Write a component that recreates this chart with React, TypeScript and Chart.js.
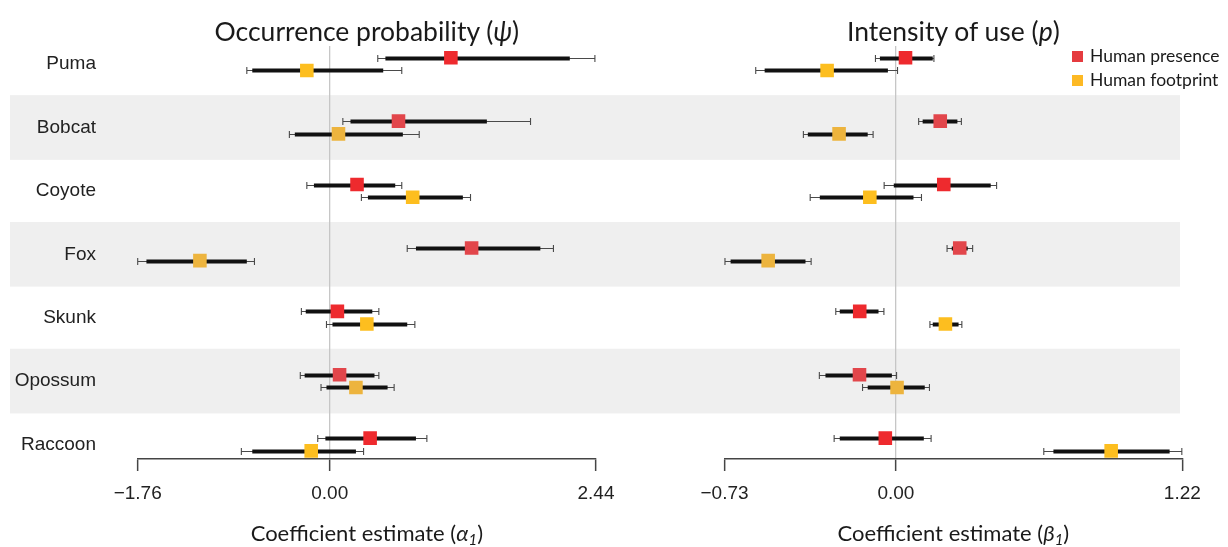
import React, { useEffect, useRef } from "react";
import { Chart, registerables } from "chart.js";

Chart.register(...registerables);

// ---------- data ----------
const SPECIES = ["Puma", "Bobcat", "Coyote", "Fox", "Skunk", "Opossum", "Raccoon"];

const OCC_TICKS = [-1.76, 0, 2.44];
const INT_TICKS = [-0.73, 0, 1.22];

// Occurrence probability (psi) — human presence
const occPresEst = [1.11, 0.63, 0.25, 1.3, 0.07, 0.09, 0.37];
const occPresLo95 = [0.44, 0.12, -0.21, 0.71, -0.26, -0.27, -0.11];
const occPresLo50 = [0.51, 0.19, -0.145, 0.79, -0.22, -0.23, -0.04];
const occPresHi50 = [2.2, 1.44, 0.6, 1.93, 0.39, 0.41, 0.79];
const occPresHi95 = [2.43, 1.84, 0.66, 2.05, 0.45, 0.45, 0.89];

// Occurrence probability (psi) — human footprint
const occFootEst = [-0.21, 0.08, 0.76, -1.19, 0.34, 0.24, -0.17];
const occFootLo95 = [-0.76, -0.37, 0.29, -1.76, -0.03, -0.08, -0.81];
const occFootLo50 = [-0.71, -0.32, 0.35, -1.68, 0.025, -0.03, -0.71];
const occFootHi50 = [0.49, 0.67, 1.22, -0.76, 0.71, 0.53, 0.24];
const occFootHi95 = [0.66, 0.82, 1.29, -0.69, 0.78, 0.59, 0.31];

// Intensity of use (p) — human presence
const intPresEst = [0.041, 0.189, 0.204, 0.272, -0.154, -0.155, -0.045];
const intPresLo95 = [-0.087, 0.097, -0.05, 0.218, -0.256, -0.326, -0.263];
const intPresLo50 = [-0.068, 0.114, -0.009, 0.238, -0.239, -0.3, -0.239];
const intPresHi50 = [0.157, 0.262, 0.404, 0.306, -0.074, -0.017, 0.119];
const intPresHi95 = [0.162, 0.279, 0.429, 0.327, -0.051, 0.003, 0.15];

// Intensity of use (p) — human footprint
const intFootEst = [-0.293, -0.242, -0.111, -0.544, 0.211, 0.005, 0.917];
const intFootLo95 = [-0.597, -0.394, -0.365, -0.728, 0.145, -0.142, 0.63];
const intFootLo50 = [-0.559, -0.375, -0.324, -0.704, 0.157, -0.12, 0.671];
const intFootHi50 = [-0.034, -0.12, 0.075, -0.385, 0.267, 0.123, 1.166];
const intFootHi95 = [0.007, -0.097, 0.109, -0.361, 0.281, 0.143, 1.218];

// ---------- styling ----------
const PRES_BRIGHT = "#ee2a2e";
const PRES_MUTED = "#e2464b";
const FOOT_BRIGHT = "#fdbe1f";
const FOOT_MUTED = "#edb43e";
const BAND = "#efefef";
const TEXT = "#222222";
const TICK_FONT = { family: "'Liberation Sans', Arial, sans-serif", size: 19 };
const LATO = "Lato, 'Noto Sans', 'DejaVu Sans', sans-serif";

const Y_MIN = -0.2855;
const Y_MAX = 6.2287;
const ROW_OFFSET = 0.1;

type Group = {
  offset: number;
  est: number[];
  lo95: number[];
  lo50: number[];
  hi50: number[];
  hi95: number[];
  bright: string;
  muted: string;
};

function fmtTick(v: number) {
  if (v === 0) return "0.00";
  return v < 0 ? "\u2212" + Math.abs(v).toFixed(2) : v.toFixed(2);
}

function bandsPlugin(x0: number, x1: number) {
  return {
    id: "bands",
    beforeDraw(chart: any) {
      const { ctx } = chart;
      const y = chart.scales.y;
      ctx.save();
      ctx.fillStyle = BAND;
      SPECIES.forEach((_, i) => {
        if (i % 2 === 1) {
          const top = y.getPixelForValue(i - 0.51);
          const bot = y.getPixelForValue(i + 0.51);
          ctx.fillRect(x0, top, x1 - x0, bot - top);
        }
      });
      ctx.restore();
    },
  };
}

function errorBarsPlugin(groups: Group[]) {
  return {
    id: "errbars",
    beforeDatasetsDraw(chart: any) {
      const { ctx } = chart;
      const x = chart.scales.x;
      const y = chart.scales.y;
      ctx.save();
      groups.forEach((g) => {
        g.est.forEach((_, i) => {
          const py = Math.round(y.getPixelForValue(i + g.offset)) + 0.5;
          const a = x.getPixelForValue(g.lo95[i]);
          const b = x.getPixelForValue(g.hi95[i]);
          ctx.strokeStyle = "#4a4a4a";
          ctx.lineWidth = 1.1;
          ctx.beginPath();
          ctx.moveTo(a, py);
          ctx.lineTo(b, py);
          ctx.moveTo(a, py - 3.5);
          ctx.lineTo(a, py + 3.5);
          ctx.moveTo(b, py - 3.5);
          ctx.lineTo(b, py + 3.5);
          ctx.stroke();
          const c = x.getPixelForValue(g.lo50[i]);
          const d = x.getPixelForValue(g.hi50[i]);
          ctx.strokeStyle = "#111111";
          ctx.lineWidth = 4;
          ctx.lineCap = "butt";
          ctx.beginPath();
          ctx.moveTo(c, py);
          ctx.lineTo(d, py);
          ctx.stroke();
        });
      });
      ctx.restore();
    },
  };
}

function makeChart(
  canvas: HTMLCanvasElement,
  opts: {
    groups: Group[];
    ticks: number[];
    showY: boolean;
    yWidth: number;
    padLeft: number;
    padRight: number;
    bandX0: number;
    bandX1: number;
  }
) {
  const { groups, ticks } = opts;
  const datasets = groups.map((g) => ({
    data: g.est.map((v, i) => ({ x: v, y: i + g.offset })),
    pointStyle: "rect",
    pointRadius: 9.6,
    pointHoverRadius: 9.6,
    pointBorderWidth: 0,
    backgroundColor: (ctx: any) => (ctx.dataIndex % 2 === 1 ? g.muted : g.bright),
    borderColor: "rgba(0,0,0,0)",
    showLine: false,
  }));
  return new Chart(canvas, {
    type: "scatter",
    data: { datasets },
    plugins: [bandsPlugin(opts.bandX0, opts.bandX1), errorBarsPlugin(groups)],
    options: {
      animation: false,
      responsive: false,
      devicePixelRatio: 1,
      events: [],
      layout: { padding: { left: opts.padLeft, right: opts.padRight, top: 46, bottom: 0 } },
      plugins: { legend: { display: false }, tooltip: { enabled: false } },
      scales: {
        x: {
          type: "linear",
          min: ticks[0],
          max: ticks[ticks.length - 1],
          afterBuildTicks: (axis: any) => {
            axis.ticks = ticks.map((v) => ({ value: v }));
          },
          afterFit: (axis: any) => {
            axis.height = 88;
            axis.paddingLeft = 0;
            axis.paddingRight = 0;
          },
          ticks: {
            callback: (v: any) => fmtTick(Number(v)),
            font: TICK_FONT,
            color: TEXT,
            padding: 11,
            autoSkip: false,
            maxRotation: 0,
          },
          grid: {
            display: true,
            drawOnChartArea: true,
            drawTicks: true,
            color: (ctx: any) =>
              ctx.tick && ctx.tick.value === 0 ? "#c6c6c6" : "rgba(0,0,0,0)",
            lineWidth: 1.3,
            tickColor: "#444444",
            tickWidth: 1.5,
            tickLength: 12,
          },
          border: { display: true, color: "#444444", width: 1.5 },
        },
        y: {
          type: "linear",
          reverse: true,
          min: Y_MIN,
          max: Y_MAX,
          display: opts.showY,
          afterBuildTicks: (axis: any) => {
            axis.ticks = SPECIES.map((_, i) => ({ value: i }));
          },
          afterFit: (axis: any) => {
            axis.width = opts.yWidth;
            axis.paddingTop = 0;
            axis.paddingBottom = 0;
          },
          ticks: {
            callback: (v: any) => SPECIES[Number(v)] ?? "",
            font: TICK_FONT,
            color: TEXT,
            padding: opts.yWidth - 96,
            autoSkip: false,
          },
          grid: { display: false, drawTicks: false },
          border: { display: false },
        },
      },
    } as any,
  });
}

const occGroups: Group[] = [
  { offset: -ROW_OFFSET, est: occPresEst, lo95: occPresLo95, lo50: occPresLo50, hi50: occPresHi50, hi95: occPresHi95, bright: PRES_BRIGHT, muted: PRES_MUTED },
  { offset: ROW_OFFSET, est: occFootEst, lo95: occFootLo95, lo50: occFootLo50, hi50: occFootHi50, hi95: occFootHi95, bright: FOOT_BRIGHT, muted: FOOT_MUTED },
];
const intGroups: Group[] = [
  { offset: -ROW_OFFSET, est: intPresEst, lo95: intPresLo95, lo50: intPresLo50, hi50: intPresHi50, hi95: intPresHi95, bright: PRES_BRIGHT, muted: PRES_MUTED },
  { offset: ROW_OFFSET, est: intFootEst, lo95: intFootLo95, lo50: intFootLo50, hi50: intFootHi50, hi95: intFootHi95, bright: FOOT_BRIGHT, muted: FOOT_MUTED },
];

const abs = (s: React.CSSProperties): React.CSSProperties => ({ position: "absolute", ...s });

export default function App() {
  const leftRef = useRef<HTMLCanvasElement | null>(null);
  const rightRef = useRef<HTMLCanvasElement | null>(null);

  useEffect(() => {
    const c1 = makeChart(leftRef.current!, {
      groups: occGroups,
      ticks: OCC_TICKS,
      showY: true,
      yWidth: 137.7,
      padLeft: 0,
      padRight: 24,
      bandX0: 10,
      bandX1: 620,
    });
    const c2 = makeChart(rightRef.current!, {
      groups: intGroups,
      ticks: INT_TICKS,
      showY: false,
      yWidth: 0,
      padLeft: 104.5,
      padRight: 45.7,
      bandX0: 0,
      bandX1: 560,
    });
    return () => {
      c1.destroy();
      c2.destroy();
    };
  }, []);

  const titleStyle: React.CSSProperties = {
    fontFamily: LATO,
    fontSize: 26.5,
    lineHeight: "26.5px",
    color: "#1a1a1a",
    textAlign: "center",
    whiteSpace: "nowrap",
  };
  const axisTitleStyle: React.CSSProperties = {
    fontFamily: LATO,
    fontSize: 22,
    lineHeight: "22px",
    color: "#1a1a1a",
    textAlign: "center",
    whiteSpace: "nowrap",
  };
  const legendText: React.CSSProperties = {
    fontFamily: LATO,
    fontSize: 17.5,
    lineHeight: "17.5px",
    color: "#1a1a1a",
    whiteSpace: "nowrap",
  };
  const sub: React.CSSProperties = { fontSize: "0.68em", verticalAlign: "-0.28em", lineHeight: 0 };

  return (
    <div style={abs({ left: 0, top: 0, width: 1228, height: 547, background: "#ffffff", overflow: "hidden" })}>
      <canvas ref={leftRef} width={620} height={547} style={abs({ left: 0, top: 0, width: 620, height: 547 })} />
      <canvas ref={rightRef} width={608} height={547} style={abs({ left: 620, top: 0, width: 608, height: 547 })} />

      <div style={abs({ left: 137.7, top: 18, width: 458.3, ...titleStyle })}>
        Occurrence probability (<i>ψ</i>)
      </div>
      <div style={abs({ left: 724.5, top: 18, width: 457.8, ...titleStyle })}>
        Intensity of use (<i>p</i>)
      </div>

      <div style={abs({ left: 137.7, top: 521.5, width: 458.3, ...axisTitleStyle })}>
        Coefficient estimate (<i>α<span style={sub}>1</span></i>)
      </div>
      <div style={abs({ left: 724.5, top: 521.5, width: 457.8, ...axisTitleStyle })}>
        Coefficient estimate (<i>β<span style={sub}>1</span></i>)
      </div>

      <div style={abs({ left: 1072, top: 50.7, width: 11, height: 11, background: "#e53b3f" })} />
      <div style={abs({ left: 1090, top: 46.5, ...legendText })}>Human presence</div>
      <div style={abs({ left: 1072, top: 75, width: 11, height: 11, background: "#fdb924" })} />
      <div style={abs({ left: 1090, top: 71, ...legendText })}>Human footprint</div>
    </div>
  );
}
